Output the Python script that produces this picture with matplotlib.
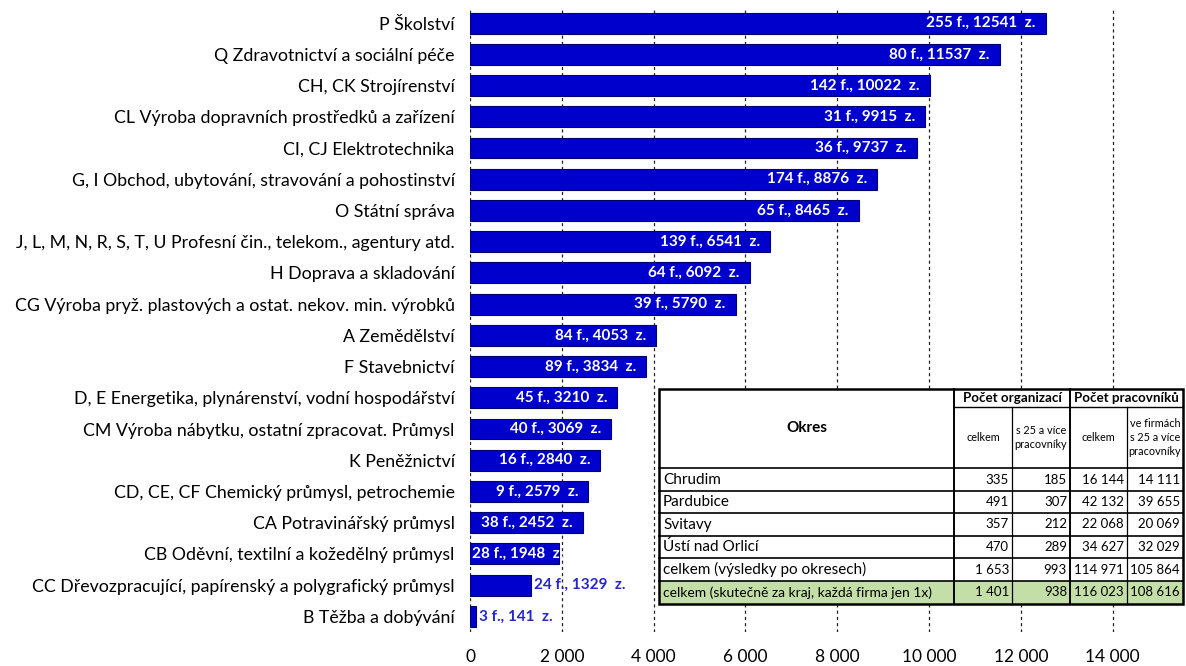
import matplotlib
matplotlib.use("Agg")
import matplotlib.pyplot as plt
from matplotlib.patches import Rectangle
from matplotlib.ticker import FuncFormatter

plt.rcParams['font.family'] = ['Lato', 'DejaVu Sans']

# data
names = [
    "P Školství",
    "Q Zdravotnictví a sociální péče",
    "CH, CK Strojírenství",
    "CL Výroba dopravních prostředků a zařízení",
    "CI, CJ Elektrotechnika",
    "G, I Obchod, ubytování, stravování a pohostinství",
    "O Státní správa",
    "J, L, M, N, R, S, T, U Profesní čin., telekom., agentury atd.",
    "H Doprava a skladování",
    "CG Výroba pryž. plastových a ostat. nekov. min. výrobků",
    "A Zemědělství",
    "F Stavebnictví",
    "D, E Energetika, plynárenství, vodní hospodářství",
    "CM Výroba nábytku, ostatní zpracovat. Průmysl",
    "K Peněžnictví",
    "CD, CE, CF Chemický průmysl, petrochemie",
    "CA Potravinářský průmysl",
    "CB Oděvní, textilní a kožedělný průmysl",
    "CC Dřevozpracující, papírenský a polygrafický průmysl",
    "B Těžba a dobývání",
]
firms = [255, 80, 142, 31, 36, 174, 65, 139, 64, 39, 84, 89, 45, 40, 16, 9, 38, 28, 24, 3]
workers = [12541, 11537, 10022, 9915, 9737, 8876, 8465, 6541, 6092, 5790,
           4053, 3834, 3210, 3069, 2840, 2579, 2452, 1948, 1329, 141]
# where the label goes: inside, clipped inside, outside
label_pos = ["in"] * 17 + ["clip", "out", "out"]

okresy = ["Chrudim", "Pardubice", "Svitavy", "Ústí nad Orlicí",
          "celkem (výsledky po okresech)",
          "celkem (skutečně za kraj, každá firma jen 1x)"]
org_celkem = [335, 491, 357, 470, 1653, 1401]
org_25 = [185, 307, 212, 289, 993, 938]
prac_celkem = [16144, 42132, 22068, 34627, 114971, 116023]
prac_25 = [14111, 39655, 20069, 32029, 105864, 108616]

W, H = 1186, 666
fig = plt.figure(figsize=(W / 100, H / 100), dpi=100)
ax = fig.add_axes([470 / W, 1 - 632 / H, 688.5 / W, 624.5 / H])

ys = list(range(len(names)))
bars = ax.barh(ys, workers, height=0.67, color='#0000CC', edgecolor='#000070', linewidth=0.8, zorder=3)
ax.set_ylim(len(names) - 0.5, -0.5)
ax.set_xlim(0, 15000)
ax.set_yticks(ys)
ax.set_yticklabels(names, fontsize=12.8)
ax.set_xticks(range(0, 15000, 2000))
ax.xaxis.set_major_formatter(FuncFormatter(lambda v, p: f"{int(v):,}".replace(",", " ")))
ax.tick_params(axis='y', length=0, pad=11)
ax.tick_params(axis='x', length=0, pad=12, labelsize=12.5)
for s in ax.spines.values():
    s.set_visible(False)
ax.grid(axis='x', color='#222222', linestyle=(0, (2.5, 2.5)), linewidth=0.9, zorder=1)

for i, (b, f, w) in enumerate(zip(bars, firms, workers)):
    txt = f"{f} f., {w}  z."
    if label_pos[i] == "in":
        ax.text(w - 220, i, txt, ha='right', va='center', color='white',
                fontsize=11, fontweight='bold', zorder=4)
    elif label_pos[i] == "clip":
        t = ax.text(50, i, txt, ha='left', va='center', color='white',
                    fontsize=11, fontweight='bold', zorder=4)
        t.set_clip_path(b)
    else:
        ax.text(w + 60, i, txt, ha='left', va='center', color='#2626D0',
                fontsize=11, fontweight='bold', zorder=4)

# table overlay in pixel coordinates
tx = fig.add_axes([0, 0, 1, 1])
tx.set_xlim(0, W)
tx.set_ylim(H, 0)
tx.axis('off')

cols = [659, 954, 1012, 1070, 1127, 1183]
rows = [389, 407, 468, 491, 513, 536, 558, 581, 604]
tx.add_patch(Rectangle((cols[0], rows[0]), cols[-1] - cols[0], rows[-1] - rows[0],
                       facecolor='white', edgecolor='none', zorder=1))
tx.add_patch(Rectangle((cols[0], rows[7]), cols[-1] - cols[0], rows[8] - rows[7],
                       facecolor='#C4DEA8', edgecolor='none', zorder=1))

# horizontal lines
tx.plot([cols[1], cols[-1]], [rows[1], rows[1]], color='black', lw=1.0, zorder=2)
for r in rows[2:8]:
    tx.plot([cols[0], cols[-1]], [r, r], color='black', lw=1.2, zorder=2)
# vertical lines
tx.plot([cols[1], cols[1]], [rows[0], rows[-1]], color='black', lw=1.4, zorder=2)
tx.plot([cols[3], cols[3]], [rows[0], rows[-1]], color='black', lw=1.4, zorder=2)
tx.plot([cols[2], cols[2]], [rows[1], rows[-1]], color='black', lw=0.9, zorder=2)
tx.plot([cols[4], cols[4]], [rows[1], rows[-1]], color='black', lw=0.9, zorder=2)
tx.add_patch(Rectangle((cols[0], rows[0]), cols[-1] - cols[0], rows[-1] - rows[0],
                       facecolor='none', edgecolor='black', lw=1.8, zorder=3))

tx.text((cols[0] + cols[1]) / 2, (rows[0] + rows[2]) / 2, "Okres", ha='center', va='center',
        fontsize=11, fontweight='bold')
tx.text((cols[1] + cols[3]) / 2, (rows[0] + rows[1]) / 2, "Počet organizací", ha='center', va='center',
        fontsize=9.6, fontweight='bold')
tx.text((cols[3] + cols[5]) / 2, (rows[0] + rows[1]) / 2, "Počet pracovníků", ha='center', va='center',
        fontsize=9.6, fontweight='bold')
subheads = ["celkem", "s 25 a více\npracovníky", "celkem", "ve firmách\ns 25 a více\npracovníky"]
for j, sh in enumerate(subheads):
    tx.text((cols[j + 1] + cols[j + 2]) / 2, (rows[1] + rows[2]) / 2, sh, ha='center', va='center',
            fontsize=7.8, linespacing=1.3)

fmt = lambda v: f"{v:,}".replace(",", " ")
for i in range(len(okresy)):
    yc = (rows[i + 2] + rows[i + 3]) / 2
    tx.text(cols[0] + 4, yc, okresy[i], ha='left', va='center',
            fontsize=10 if i == 5 else 11)
    vals = [org_celkem[i], org_25[i], prac_celkem[i], prac_25[i]]
    for j, v in enumerate(vals):
        tx.text(cols[j + 2] - 3, yc, fmt(v), ha='right', va='center', fontsize=9.5)

fig.savefig("out.png", dpi=100)
